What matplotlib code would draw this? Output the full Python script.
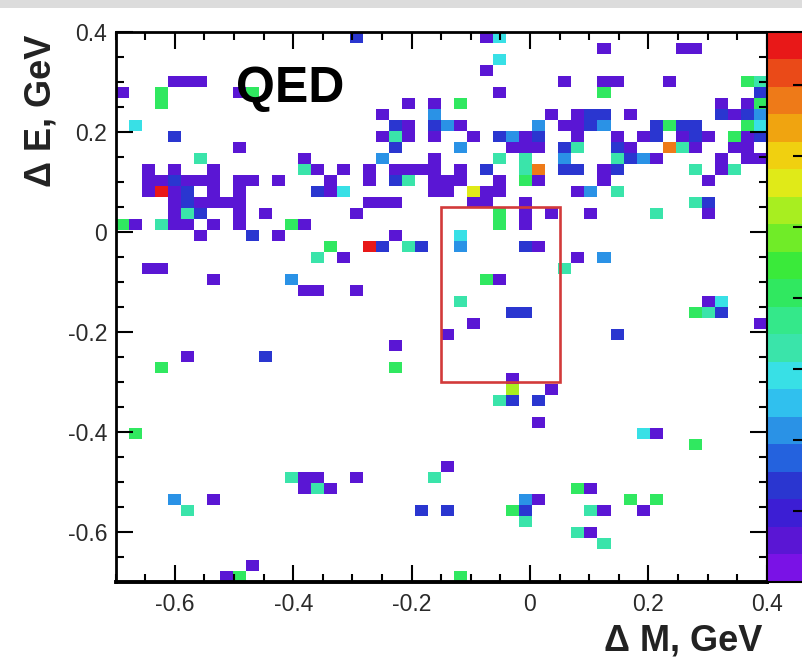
import numpy as np
import matplotlib
matplotlib.use("Agg")
import matplotlib.pyplot as plt
from matplotlib.colors import ListedColormap, BoundaryNorm
from matplotlib.patches import Rectangle

# ---------------- data (cell centres) ----------------
# content levels: P=purple, B=blue, LB=light blue, C=cyan, T=teal, G=green,
# YG=yellow-green, Y=yellow, O=orange, R=red
P, B, LB, C, T, G, YG, Y, O, R = 0.58, 1.36, 2.13, 2.91, 3.29, 4.07, 5.23, 5.62, 6.78, 7.56

dM = [
    -0.293, -0.073, -0.051,
    0.125, 0.257, 0.279,
    -0.051,
    -0.073,
    -0.601, -0.579, -0.557, 0.059, 0.125, 0.147, 0.235, 0.367, 0.389,
    -0.689, -0.623, -0.491, -0.469, -0.051, 0.125, 0.389,
    -0.623, -0.205, -0.161, -0.117, 0.323, 0.367, 0.389,
    -0.249, -0.161, 0.037, 0.081, 0.103, 0.125, 0.169, 0.323, 0.345, 0.367, 0.389,
    -0.667, -0.227, -0.205, -0.161, -0.139, -0.117, 0.015, 0.059, 0.081, 0.103, 0.125, 0.213, 0.235, 0.257, 0.279, 0.367, 0.389,
    -0.601, -0.249, -0.227, -0.205, -0.161, -0.095, -0.051, -0.029, -0.007, 0.015, 0.081, 0.147, 0.191, 0.213, 0.257, 0.279, 0.301, 0.345, 0.367, 0.389,
    -0.491, -0.227, -0.117, -0.029, -0.007, 0.015, 0.059, 0.081, 0.147, 0.169, 0.235, 0.257, 0.279, 0.345, 0.367,
    -0.557, -0.381, -0.249, -0.161, -0.051, -0.007, 0.059, 0.147, 0.169, 0.191, 0.213, 0.323, 0.367, 0.389,
    -0.645, -0.601, -0.535, -0.381, -0.359, -0.315, -0.271, -0.227, -0.205, -0.183, -0.161, -0.117, -0.073, -0.007, 0.015, 0.059, 0.081, 0.125, 0.147, 0.279, 0.323, 0.345,
    -0.645, -0.623, -0.601, -0.579, -0.557, -0.535, -0.491, -0.469, -0.425, -0.337, -0.271, -0.227, -0.205, -0.161, -0.139, -0.117, -0.051, -0.007, 0.015, 0.125, 0.301,
    -0.645, -0.623, -0.601, -0.579, -0.535, -0.491, -0.359, -0.337, -0.315, -0.161, -0.139, -0.095, -0.073, -0.051, 0.081, 0.103, 0.147,
    -0.601, -0.579, -0.557, -0.535, -0.513, -0.491, -0.271, -0.249, -0.227, -0.095, -0.073, -0.007, 0.279, 0.301,
    -0.601, -0.579, -0.557, -0.491, -0.447, -0.293, -0.051, -0.007, 0.037, 0.103, 0.213, 0.301,
    -0.689, -0.667, -0.623, -0.601, -0.579, -0.535, -0.491, -0.403, -0.381, -0.051, -0.007,
    -0.557, -0.469, -0.425, -0.227, -0.117,
    -0.337, -0.271, -0.249, -0.205, -0.183, -0.117, -0.007, 0.015,
    -0.359, -0.315, 0.081, 0.125,
    -0.645, -0.623, 0.059,
    -0.535, -0.403, -0.073, -0.051,
    -0.381, -0.359, -0.293,
    -0.117, 0.301, 0.323,
    -0.029, -0.007, 0.279, 0.301, 0.323,
    -0.095, 0.389,
    -0.139, 0.147,
    -0.227,
    -0.579, -0.447,
    -0.623, -0.227,
    -0.029,
    -0.029, 0.037,
    -0.051, -0.029, 0.015,
    0.015,
    -0.667, 0.191, 0.213,
    0.279,
    -0.139,
    -0.403, -0.381, -0.359, -0.293, -0.161,
    -0.381, -0.359, -0.337, 0.081, 0.103,
    -0.601, -0.535, -0.007, 0.015, 0.169, 0.213,
    -0.579, -0.183, -0.139, -0.029, -0.007, 0.103, 0.125, 0.191,
    -0.007,
    0.081, 0.103,
    0.125,
    -0.469,
    -0.513, -0.491, -0.117,
]

dE = [
    0.389, 0.389, 0.389,
    0.367, 0.367, 0.367,
    0.345,
    0.323,
    0.301, 0.301, 0.301, 0.301, 0.301, 0.301, 0.301, 0.301, 0.301,
    0.279, 0.279, 0.279, 0.279, 0.279, 0.279, 0.279,
    0.257, 0.257, 0.257, 0.257, 0.257, 0.257, 0.257,
    0.235, 0.235, 0.235, 0.235, 0.235, 0.235, 0.235, 0.235, 0.235, 0.235, 0.235,
    0.213, 0.213, 0.213, 0.213, 0.213, 0.213, 0.213, 0.213, 0.213, 0.213, 0.213, 0.213, 0.213, 0.213, 0.213, 0.213, 0.213,
    0.191, 0.191, 0.191, 0.191, 0.191, 0.191, 0.191, 0.191, 0.191, 0.191, 0.191, 0.191, 0.191, 0.191, 0.191, 0.191, 0.191, 0.191, 0.191, 0.191,
    0.169, 0.169, 0.169, 0.169, 0.169, 0.169, 0.169, 0.169, 0.169, 0.169, 0.169, 0.169, 0.169, 0.169, 0.169,
    0.147, 0.147, 0.147, 0.147, 0.147, 0.147, 0.147, 0.147, 0.147, 0.147, 0.147, 0.147, 0.147, 0.147,
    0.125, 0.125, 0.125, 0.125, 0.125, 0.125, 0.125, 0.125, 0.125, 0.125, 0.125, 0.125, 0.125, 0.125, 0.125, 0.125, 0.125, 0.125, 0.125, 0.125, 0.125, 0.125,
    0.103, 0.103, 0.103, 0.103, 0.103, 0.103, 0.103, 0.103, 0.103, 0.103, 0.103, 0.103, 0.103, 0.103, 0.103, 0.103, 0.103, 0.103, 0.103, 0.103, 0.103,
    0.081, 0.081, 0.081, 0.081, 0.081, 0.081, 0.081, 0.081, 0.081, 0.081, 0.081, 0.081, 0.081, 0.081, 0.081, 0.081, 0.081,
    0.059, 0.059, 0.059, 0.059, 0.059, 0.059, 0.059, 0.059, 0.059, 0.059, 0.059, 0.059, 0.059, 0.059,
    0.037, 0.037, 0.037, 0.037, 0.037, 0.037, 0.037, 0.037, 0.037, 0.037, 0.037, 0.037,
    0.015, 0.015, 0.015, 0.015, 0.015, 0.015, 0.015, 0.015, 0.015, 0.015, 0.015,
    -0.007, -0.007, -0.007, -0.007, -0.007,
    -0.029, -0.029, -0.029, -0.029, -0.029, -0.029, -0.029, -0.029,
    -0.051, -0.051, -0.051, -0.051,
    -0.073, -0.073, -0.073,
    -0.095, -0.095, -0.095, -0.095,
    -0.117, -0.117, -0.117,
    -0.139, -0.139, -0.139,
    -0.161, -0.161, -0.161, -0.161, -0.161,
    -0.183, -0.183,
    -0.205, -0.205,
    -0.227,
    -0.249, -0.249,
    -0.271, -0.271,
    -0.293,
    -0.315, -0.315,
    -0.337, -0.337, -0.337,
    -0.381,
    -0.403, -0.403, -0.403,
    -0.425,
    -0.469,
    -0.491, -0.491, -0.491, -0.491, -0.491,
    -0.513, -0.513, -0.513, -0.513, -0.513,
    -0.535, -0.535, -0.535, -0.535, -0.535, -0.535,
    -0.557, -0.557, -0.557, -0.557, -0.557, -0.557, -0.557, -0.557,
    -0.579,
    -0.601, -0.601,
    -0.623,
    -0.667,
    -0.689, -0.689, -0.689,
]

content = [
    B, P, C,
    P, P, P,
    C,
    P,
    P, P, P, P, P, P, P, G, T,
    P, G, P, G, P, G, B,
    G, P, P, G, P, P, G,
    P, LB, P, P, B, B, P, B, P, B, LB,
    C, B, P, B, LB, P, LB, P, P, B, LB, B, G, B, B, G, C,
    B, P, T, P, P, P, B, LB, P, B, P, P, P, B, P, B, P, G, P, B,
    P, B, LB, P, P, P, B, T, B, P, O, T, P, P, P,
    T, P, LB, P, T, T, LB, T, B, LB, P, P, P, P,
    P, P, P, T, P, P, P, P, P, P, P, P, B, T, O, B, B, P, B, T, P, T,
    P, P, B, P, P, P, P, P, P, P, P, B, T, P, P, P, P, G, P, P, P,
    P, R, P, B, P, P, B, P, C, P, P, Y, P, P, P, LB, T,
    P, B, P, P, P, P, P, P, P, P, P, P, T, B,
    P, T, B, P, P, P, G, P, P, P, T, P,
    G, P, T, P, P, P, P, G, P, G, P,
    P, B, P, P, C,
    G, R, B, T, B, LB, B, P,
    T, P, P, LB,
    P, P, T,
    P, LB, G, P,
    P, P, P,
    T, P, C,
    B, B, G, T, B,
    P, P,
    P, B,
    P,
    P, B,
    G, G,
    P,
    YG, P,
    T, B, B,
    P,
    G, C, P,
    G,
    P,
    T, P, P, P, T,
    P, T, P, G, P,
    LB, P, LB, P, G, G,
    T, B, B, G, B, T, P, P,
    T,
    T, P,
    T,
    P,
    P, G, G,
]

x_ticks = [-0.6, -0.4, -0.2, 0, 0.2, 0.4]
y_ticks = [-0.6, -0.4, -0.2, 0, 0.2, 0.4]
x_tick_labels = ["-0.6", "-0.4", "-0.2", "0", "0.2", "0.4"]
y_tick_labels = ["-0.6", "-0.4", "-0.2", "0", "0.2", "0.4"]
z_ticks = [1, 2, 3, 4, 5, 6, 7]
signal_box = (-0.15, -0.3, 0.05, 0.05)  # dM_min, dE_min, dM_max, dE_max

# ---------------- style ----------------
plt.rcParams["font.family"] = ["Liberation Sans", "DejaVu Sans"]
W, H = 802, 665
fig = plt.figure(figsize=(W / 100, H / 100), dpi=100)

# ROOT-like rainbow palette, 20 contour levels
palette = ["#7a12e6", "#5a16d4", "#3c1ed4", "#2a36d0", "#2462de", "#2a92e6",
           "#30c0ee", "#38e0e6", "#3ae4aa", "#34e88a", "#30e860", "#3aea3a",
           "#70ec28", "#a8ee20", "#e0ea18", "#f0d010", "#f0a410", "#ee7a18",
           "#ea4a18", "#e81818"]
cmap = ListedColormap(palette)
zmax = 7.75
norm = BoundaryNorm(np.linspace(0, zmax, len(palette) + 1), cmap.N)

# light grey strip along the top edge of the original scan
fig.patches.append(Rectangle((0, 1 - 8 / H), 1, 8 / H, transform=fig.transFigure,
                             facecolor="#dcdcdc", edgecolor="none", zorder=0))

x0, x1, y0, y1 = 115.6, 766.8, 31.7, 581.7
ax = fig.add_axes([x0 / W, 1 - y1 / H, (x1 - x0) / W, (y1 - y0) / H])
edges = np.linspace(-0.7, 0.4, 51)
ax.hist2d(dM, dE, bins=[edges, edges], weights=content, cmap=cmap, norm=norm, cmin=0.01)
ax.set_xlim(-0.7, 0.4)
ax.set_ylim(-0.7, 0.4)

ax.add_patch(Rectangle((signal_box[0], signal_box[1]), signal_box[2] - signal_box[0],
                       signal_box[3] - signal_box[1], fill=False, edgecolor="#d23a3a", lw=1.9, zorder=5))

ax.set_xticks(x_ticks)
ax.set_xticklabels(x_tick_labels)
ax.set_yticks(y_ticks)
ax.set_yticklabels(y_tick_labels)
ax.xaxis.set_minor_locator(matplotlib.ticker.MultipleLocator(0.05))
ax.yaxis.set_minor_locator(matplotlib.ticker.MultipleLocator(0.05))
ax.tick_params(which="both", direction="in", top=True, right=True, colors="black",
               labelcolor="#2a2a2a", labelsize=16.5)
ax.tick_params(which="major", length=12.5, width=1.5)
ax.tick_params(which="minor", length=6, width=1.5)
ax.tick_params(axis="x", pad=8)
ax.tick_params(axis="y", pad=6)
for s in ax.spines.values():
    s.set_linewidth(2.0)
ax.spines["bottom"].set_linewidth(2.8)

# colour palette (runs off the right edge like the original)
cax = fig.add_axes([767 / W, 1 - y1 / H, 45 / W, (y1 - y0) / H])
sm = matplotlib.cm.ScalarMappable(norm=norm, cmap=cmap)
cb = fig.colorbar(sm, cax=cax, ticks=z_ticks)
cb.outline.set_linewidth(1.5)
cax.tick_params(direction="in", length=14, width=1.5, labelright=False)

fig.text(762 / W, 1 - 651 / H, "\u0394 M, GeV", ha="right", va="baseline",
         fontsize=26, fontweight="bold", color="#222222")
fig.text(41 / W, 1 - 35 / H, "\u0394 E, GeV", ha="center", va="top", rotation=90,
         fontsize=26, fontweight="bold", color="#222222")
fig.text(236 / W, 1 - 102 / H, "QED", ha="left", va="baseline",
         fontsize=36, fontweight="bold", color="black")

fig.savefig("out.png", dpi=100)
